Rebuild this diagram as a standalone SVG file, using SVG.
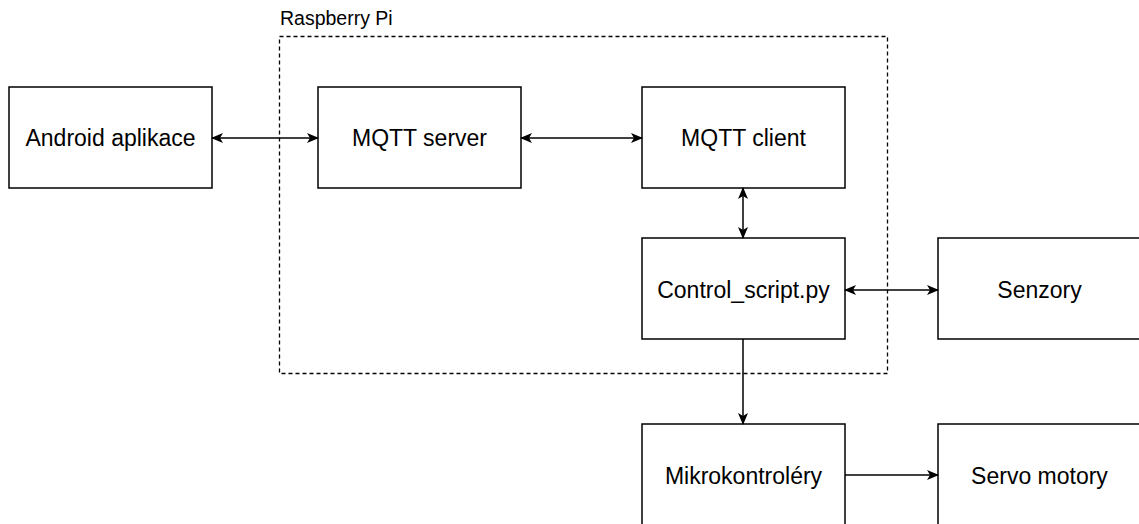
<svg xmlns="http://www.w3.org/2000/svg" width="1139" height="524" viewBox="0 0 1139 524">
<defs>
<style>
.box{fill:#fff;stroke:#000;stroke-width:1.5}
.lbl{font-family:"Liberation Sans",Arial,sans-serif;font-size:23px;fill:#000;text-anchor:middle}
.edge{fill:none;stroke:#000;stroke-width:1.5}
</style>
<marker id="ah" viewBox="0 0 12 10" refX="11" refY="5" markerWidth="12" markerHeight="10" markerUnits="userSpaceOnUse" orient="auto-start-reverse">
<path d="M0,0 L12,5 L0,10 L3,5 Z" fill="#000"/>
</marker>
</defs>
<rect width="1139" height="524" fill="#fff"/>
<g id="raspberry-pi">
<rect x="279.5" y="36.5" width="608" height="337" fill="none" stroke="#000" stroke-width="1.3" stroke-dasharray="4,3"/>
<text x="280" y="25" font-family="Liberation Sans,Arial,sans-serif" font-size="19.5" fill="#000">Raspberry Pi</text>
</g>
<g id="android">
<rect class="box" x="9" y="87" width="203" height="101"/>
<text class="lbl" x="110.5" y="146">Android aplikace</text>
</g>
<g id="mqtt-server">
<rect class="box" x="318" y="87" width="203" height="101"/>
<text class="lbl" x="419.5" y="146">MQTT server</text>
</g>
<g id="mqtt-client">
<rect class="box" x="642" y="87" width="203" height="101"/>
<text class="lbl" x="743.5" y="146">MQTT client</text>
</g>
<g id="control-script">
<rect class="box" x="642" y="238" width="203" height="101"/>
<text class="lbl" x="743.5" y="298">Control_script.py</text>
</g>
<g id="senzory">
<rect class="box" x="938" y="238" width="210" height="101"/>
<text class="lbl" x="1039.5" y="298">Senzory</text>
</g>
<g id="mikrokontrolery">
<rect class="box" x="642" y="424" width="203" height="110"/>
<text class="lbl" x="743.5" y="484">Mikrokontroléry</text>
</g>
<g id="servo">
<rect class="box" x="938" y="424" width="210" height="110"/>
<text class="lbl" x="1039.5" y="484">Servo motory</text>
</g>
<g id="connectors">
<path class="edge" d="M212,138 L318,138" marker-start="url(#ah)" marker-end="url(#ah)"/>
<path class="edge" d="M521,138 L642,138" marker-start="url(#ah)" marker-end="url(#ah)"/>
<path class="edge" d="M743,188 L743,238" marker-start="url(#ah)" marker-end="url(#ah)"/>
<path class="edge" d="M845,290 L938,290" marker-start="url(#ah)" marker-end="url(#ah)"/>
<path class="edge" d="M743,339 L743,424" marker-end="url(#ah)"/>
<path class="edge" d="M845,475 L938,475" marker-end="url(#ah)"/>
</g>
</svg>
